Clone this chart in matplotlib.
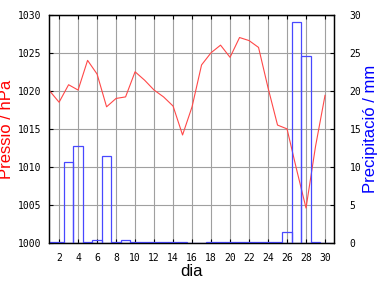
import matplotlib
matplotlib.use('Agg')
import matplotlib.pyplot as plt

# Daily data
days = list(range(1, 31))
pressure = [1020.0, 1018.5, 1020.8, 1020.1, 1024.0, 1022.2, 1017.9, 1019.0, 1019.2, 1022.5,
            1021.4, 1020.1, 1019.2, 1018.0, 1014.2, 1017.9, 1023.4, 1025.0, 1026.0, 1024.4,
            1027.0, 1026.6, 1025.7, 1020.4, 1015.5, 1015.0, 1009.7, 1004.6, 1012.7, 1019.4]
precip = [0.2, 0.2, 10.7, 12.8, 0.2, 0.4, 11.4, 0.2, 0.4, 0.2,
          0.2, 0.2, 0.2, 0.2, 0.2, 0.0, 0.0, 0.2, 0.2, 0.2,
          0.2, 0.2, 0.2, 0.2, 0.2, 1.5, 29.0, 24.6, 0.2, 0.0]

day_ticks = list(range(2, 31, 2))
p_ticks = list(range(1000, 1031, 5))
r_ticks = list(range(0, 31, 5))

fig = plt.figure(figsize=(3.84, 2.88), dpi=100)
ax = fig.add_axes([0.1284, 0.156, 0.742, 0.793])
ax2 = ax.twinx()

ax.plot(days, pressure, color='#ff4848', linewidth=0.8)
ax2.bar(days, precip, width=1.0, fill=False, edgecolor='#4848ff', linewidth=0.9)

ax.set_xlim(0.97, 30.97)
ax.set_ylim(1000, 1030)
ax2.set_ylim(0, 30)

ax.set_xticks(day_ticks)
ax.set_yticks(p_ticks)
ax2.set_yticks(r_ticks)
ax.grid(True, color='#a0a0a0', linewidth=0.8)

mono = 'DejaVu Sans Mono'
ax.tick_params(axis='x', direction='in', length=3, width=0.8, top=True, pad=7, labelsize=7)
ax.tick_params(axis='y', direction='in', length=3, width=0.8, pad=6, labelsize=7)
ax2.tick_params(axis='y', direction='in', length=3, width=0.8, pad=11, labelsize=7)
for lbl in ax.get_xticklabels() + ax.get_yticklabels() + ax2.get_yticklabels():
    lbl.set_family(mono)

for a in (ax, ax2):
    for s in a.spines.values():
        s.set_linewidth(0.9)

ax.set_xlabel('dia', fontsize=12, family='Liberation Sans')
ax.set_ylabel('Pressió / hPa', fontsize=12, family='Liberation Sans', color='#ff0000')
ax2.set_ylabel('Precipitació / mm', fontsize=12, family='Liberation Sans', color='#0000ff')
ax.xaxis.set_label_coords(0.5, -0.092)
ax.yaxis.set_label_coords(-0.125, 0.5)
ax2.yaxis.set_label_coords(1.10, 0.5)

fig.savefig('out.png', dpi=100)
